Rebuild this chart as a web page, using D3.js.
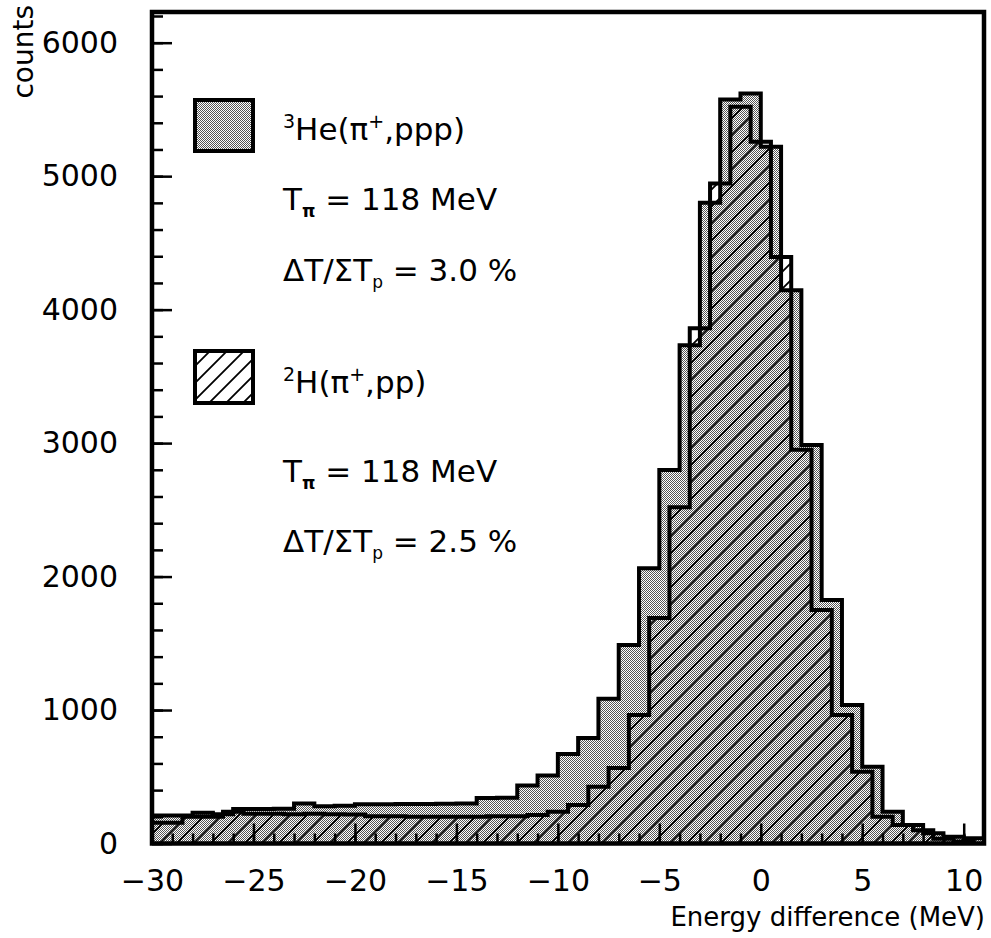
<!DOCTYPE html>
<html>
<head>
<meta charset="utf-8">
<script src="https://cdn.jsdelivr.net/npm/d3@7"></script>
<style>
  body { margin: 0; background: #fff; }
  svg { display: block; }
  text { font-family: "DejaVu Sans", sans-serif; fill: #000; }
</style>
</head>
<body>
<svg id="chart" width="991" height="938"></svg>
<script>
// 3He(pi+,ppp) histogram, 1 MeV bins (left edges)
const he3Edges = [-30,-29,-28,-27,-26,-25,-24,-23,-22,-21,-20,-19,-18,-17,-16,-15,-14,-13,-12,-11,
  -10,-9,-8,-7,-6,-5,-4,-3,-2,-1,0,1,2,3,4,5,6,7,8,9,10];
const he3Counts = [210,210,230,220,258,258,260,300,280,282,295,295,296,296,298,300,340,342,435,510,
  670,790,1085,1487,2063,2798,3734,4800,5575,5620,5220,4146,2985,1825,1037,575,238,138,76,51,40];

// 2H(pi+,pp) histogram, 1 MeV bins shifted by half a MeV (left edges)
const h2Edges = [-30.5,-29.5,-28.5,-27.5,-26.5,-25.5,-24.5,-23.5,-22.5,-21.5,-20.5,-19.5,-18.5,-17.5,
  -16.5,-15.5,-14.5,-13.5,-12.5,-11.5,-10.5,-9.5,-8.5,-7.5,-6.5,-5.5,-4.5,-3.5,-2.5,-1.5,-0.5,0.5,
  1.5,2.5,3.5,4.5,5.5,6.5,7.5,8.5,9.5];
const h2Counts = [155,155,200,200,238,222,222,220,222,220,218,205,205,200,200,200,200,205,205,213,
  238,288,425,565,963,1690,2520,3861,4945,5520,5257,4395,2950,1750,963,538,201,139,100,35,15];

const xTicks = [-30,-25,-20,-15,-10,-5,0,5,10];
const yTicks = [0,1000,2000,3000,4000,5000,6000];

const legend1 = [
  [{t:"3",sup:true},{t:"He(π"},{t:"+",sup:true},{t:",ppp)"}],
  [{t:"T"},{t:"π",sub:true,bold:true},{t:" = 118 MeV"}],
  [{t:"ΔT/ΣT"},{t:"p",sub:true},{t:" = 3.0 %"}]
];
const legend2 = [
  [{t:"2",sup:true},{t:"H(π"},{t:"+",sup:true},{t:",pp)"}],
  [{t:"T"},{t:"π",sub:true,bold:true},{t:" = 118 MeV"}],
  [{t:"ΔT/ΣT"},{t:"p",sub:true},{t:" = 2.5 %"}]
];

const svg = d3.select("#chart");
const plotL = 152, plotR = 984, plotT = 12, plotB = 843.5;

const x = d3.scaleLinear().domain([-30, 11]).range([plotL, plotR]);
const y = d3.scaleLinear().domain([0, 6230]).range([plotB, plotT]);

// fill patterns
const defs = svg.append("defs");
const stip = defs.append("pattern").attr("id", "stip")
  .attr("patternUnits", "userSpaceOnUse").attr("width", 2).attr("height", 2);
stip.append("rect").attr("width", 2).attr("height", 2).attr("fill", "#fff");
stip.append("rect").attr("width", 1).attr("height", 1).attr("fill", "#555");
stip.append("rect").attr("x", 1).attr("y", 1).attr("width", 1).attr("height", 1).attr("fill", "#555");

const hatch = defs.append("pattern").attr("id", "hatch")
  .attr("patternUnits", "userSpaceOnUse").attr("width", 17).attr("height", 17);
hatch.append("path")
  .attr("d", "M-4,4 L4,-4 M0,17 L17,0 M13,21 L21,13")
  .attr("stroke", "#000").attr("stroke-width", 1.8);

function steps(edges, counts) {
  const d0 = x.domain()[0], d1 = x.domain()[1];
  const pts = [];
  edges.forEach((e, i) => {
    const lo = Math.max(e, d0), hi = Math.min(e + 1, d1);
    pts.push([lo, counts[i]], [hi, counts[i]]);
  });
  return pts;
}

const area = d3.area().x(d => x(d[0])).y0(y(0)).y1(d => y(d[1]));
const line = d3.line().x(d => x(d[0])).y(d => y(d[1]));

const he3Pts = steps(he3Edges, he3Counts);
const h2Pts = steps(h2Edges, h2Counts);

const g = svg.append("g");

g.append("path").datum(he3Pts).attr("d", area).attr("fill", "url(#stip)");
g.append("path").datum(h2Pts).attr("d", area).attr("fill", "url(#hatch)");

function outline(pts) {
  return [[pts[0][0], 0]].concat(pts, [[pts[pts.length - 1][0], 0]]);
}
g.append("path").datum(outline(he3Pts)).attr("d", line)
  .attr("fill", "none").attr("stroke", "#000").attr("stroke-width", 4).attr("stroke-linejoin", "miter");
g.append("path").datum(outline(h2Pts)).attr("d", line)
  .attr("fill", "none").attr("stroke", "#000").attr("stroke-width", 4).attr("stroke-linejoin", "miter");

// axes, ticks pointing inwards
const axisStyle = sel => {
  sel.select(".domain").remove();
  sel.selectAll("line").attr("stroke", "#000").attr("stroke-width", 2.5);
  sel.selectAll("text").style("font-family", "DejaVu Sans, sans-serif").style("font-size", "30px");
};

svg.append("g").attr("transform", "translate(" + plotL + ",0)")
  .call(d3.axisLeft(y).tickValues(d3.range(0, 6201, 200)).tickSizeInner(-11).tickSizeOuter(0).tickFormat(""))
  .call(axisStyle);
svg.append("g").attr("transform", "translate(" + plotL + ",0)")
  .call(d3.axisLeft(y).tickValues(yTicks).tickSizeInner(-20).tickSizeOuter(0).tickPadding(34).tickFormat(d3.format("d")))
  .call(axisStyle);

svg.append("g").attr("transform", "translate(0," + plotB + ")")
  .call(d3.axisBottom(x).tickValues(d3.range(-29, 11, 1)).tickSizeInner(-10).tickSizeOuter(0).tickFormat(""))
  .call(axisStyle);
svg.append("g").attr("transform", "translate(0," + plotB + ")")
  .call(d3.axisBottom(x).tickValues(xTicks).tickSizeInner(-20).tickSizeOuter(0).tickPadding(26).tickFormat(d3.format("d")))
  .call(axisStyle);

// frame
svg.append("rect")
  .attr("x", plotL).attr("y", plotT).attr("width", plotR - plotL).attr("height", plotB - plotT)
  .attr("fill", "none").attr("stroke", "#000").attr("stroke-width", 4.5);

// axis titles
svg.append("text")
  .attr("x", 985).attr("y", 926).attr("text-anchor", "end")
  .style("font-size", "26px")
  .text("Energy difference (MeV)");
svg.append("text")
  .attr("transform", "translate(33,5) rotate(-90)")
  .attr("text-anchor", "end")
  .style("font-size", "28px")
  .text("counts");

// legend
function richText(sel, parts) {
  let shift = 0;
  parts.forEach(p => {
    const ts = sel.append("tspan").text(p.t);
    let target = 0;
    if (p.sup) { ts.style("font-size", "19px"); target = -12; }
    if (p.sub) { ts.style("font-size", "17px"); target = 7; }
    if (p.bold) ts.style("font-weight", "bold");
    if (target !== shift) { ts.attr("dy", target - shift); shift = target; }
  });
}

const leg = svg.append("g");
leg.append("rect").attr("x", 195).attr("y", 100).attr("width", 58).attr("height", 51)
  .attr("fill", "url(#stip)").attr("stroke", "#000").attr("stroke-width", 4);
leg.append("rect").attr("x", 195).attr("y", 351).attr("width", 58).attr("height", 52)
  .attr("fill", "url(#hatch)").attr("stroke", "#000").attr("stroke-width", 4);

[[legend1, [140, 210, 281]], [legend2, [393, 482, 552]]].forEach(([rows, ys]) => {
  rows.forEach((parts, i) => {
    const t = leg.append("text").attr("x", 283).attr("y", ys[i]).style("font-size", "31px");
    richText(t, parts);
  });
});
</script>
</body>
</html>
